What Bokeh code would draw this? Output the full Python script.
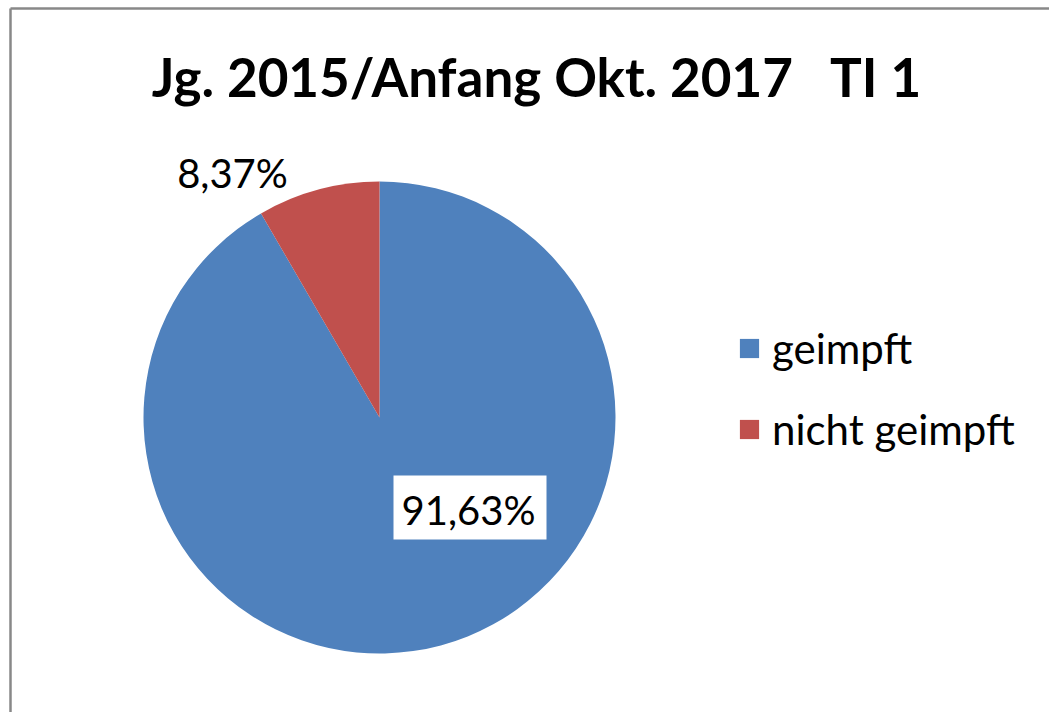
import math
from bokeh.plotting import figure
from bokeh.models import ColumnDataSource, Range1d, Legend, LegendItem, Label
from bokeh.embed import file_html
from bokeh.resources import INLINE

categories = ["geimpft", "nicht geimpft"]
values = [91.63, 8.37]
colors = ["#4F81BD", "#C0504D"]
label_texts = ["91,63%", "8,37%"]
title_text = "Jg. 2015/Anfang Okt. 2017\u00a0\u00a0\u00a0TI 1"

W, H = 1049, 712
FONT = "Lato"

# angles: start at top, go clockwise
total = sum(values)
starts, ends = [], []
cur = math.pi / 2
for v in values:
    a = v / total * 2 * math.pi
    starts.append(cur - a)
    ends.append(cur)
    cur -= a

src = ColumnDataSource(dict(cat=categories, val=values, color=colors,
                            start=starts, end=ends))

p = figure(width=W, height=H, output_backend="svg", toolbar_location=None,
           x_range=Range1d(0, W), y_range=Range1d(0, H),
           min_border=0)
p.xaxis.visible = False
p.yaxis.visible = False
p.grid.visible = False
p.outline_line_color = None
p.background_fill_color = "white"
p.border_fill_color = "white"

# chart area border (left and top visible)
p.line(x=[10, 10], y=[-10, 704], line_color="#888888", line_width=2.5)
p.line(x=[10, W + 10], y=[704, 704], line_color="#888888", line_width=2.5)

cx, cy, R = 379, 295, 236
r = p.wedge(x=cx, y=cy, radius=R, start_angle="start", end_angle="end",
            fill_color="color", line_color=None, source=src)

# data labels
p.rect(x=469.5, y=205, width=153, height=64, fill_color="white", line_color=None)
lbl_pos = [(468, 203), (232, 540)]
for txt, (lx, ly) in zip(label_texts, lbl_pos):
    p.add_layout(Label(x=lx, y=ly, text=txt, text_font=FONT, text_font_size="40px",
                       text_align="center", text_baseline="middle", text_color="black"))

p.add_layout(Label(x=536, y=636, text=title_text, text_font=FONT, text_font_style="bold",
                   text_font_size="53px", text_align="center", text_baseline="middle",
                   text_color="black"))

legend = Legend(items=[LegendItem(label=categories[i], renderers=[r], index=i) for i in range(len(categories))],
                location=(737, 258), glyph_width=24, glyph_height=24, label_standoff=11,
                label_text_font=FONT, label_text_font_size="42px", label_text_color="black",
                spacing=31, padding=0, margin=0, border_line_color=None,
                background_fill_alpha=0)
p.add_layout(legend)

open("out.html", "w").write(file_html(p, INLINE))
